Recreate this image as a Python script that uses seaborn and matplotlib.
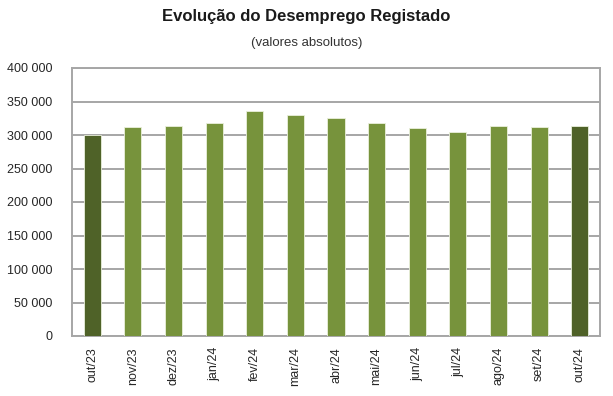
import pandas as pd
import seaborn as sns
import matplotlib.pyplot as plt
from matplotlib.ticker import FuncFormatter

meses = ["out/23", "nov/23", "dez/23", "jan/24", "fev/24", "mar/24", "abr/24",
         "mai/24", "jun/24", "jul/24", "ago/24", "set/24", "out/24"]
desempregados = [300300, 312000, 314000, 318500, 335500, 330500, 325500,
                 318500, 310000, 305000, 314000, 312000, 314000]
cores = ["#4F6228"] + ["#77933C"] * 11 + ["#4F6228"]

df = pd.DataFrame({"mes": meses, "valor": desempregados})

sns.set_style("white")
plt.rcParams['font.family'] = ['Liberation Sans', 'DejaVu Sans']

fig = plt.figure(figsize=(6.13, 3.96), dpi=100)
ax = fig.add_axes([72 / 613, 1 - 336 / 396, 528 / 613, 268 / 396])

sns.barplot(data=df, x="mes", y="valor", hue="mes", palette=cores, legend=False,
            width=0.42, saturation=1, ax=ax, zorder=3)
for p in ax.patches:
    p.set_edgecolor("#EAF0DC")
    p.set_linewidth(0.6)

ax.set_ylim(0, 400000)
ax.set_xlim(-0.5, len(meses) - 0.5)
ax.set_yticks(range(0, 400001, 50000))
ax.yaxis.set_major_formatter(FuncFormatter(lambda v, _: f"{int(v):,}".replace(",", " ")))
ax.grid(axis="y", color="#A6A6A6", linewidth=1.4, zorder=0)
ax.set_axisbelow(True)
for s in ax.spines.values():
    s.set_color("#A6A6A6")
    s.set_linewidth(1.4)
ax.tick_params(axis="x", labelrotation=90, labelsize=9, length=0, pad=8)
ax.tick_params(axis="y", labelsize=9, length=0, pad=14)
ax.set_xlabel("")
ax.set_ylabel("")

fig.text(0.5, 1 - 16 / 396, "Evolução do Desemprego Registado", ha="center", va="center",
         fontsize=12, fontweight="bold", color="#1a1a1a")
fig.text(0.5, 1 - 43 / 396, "(valores absolutos)", ha="center", va="center",
         fontsize=9.5, color="#333333")

fig.savefig("out.png", dpi=100)
